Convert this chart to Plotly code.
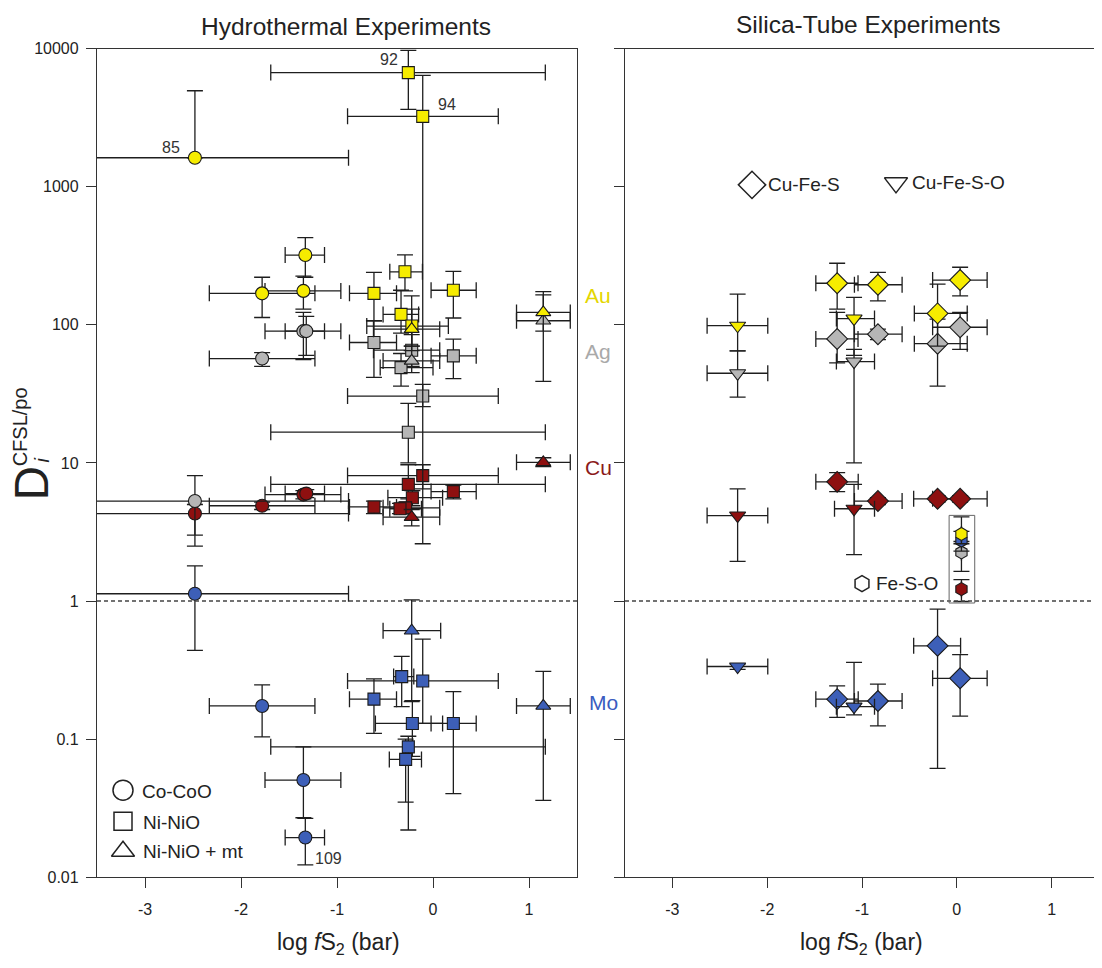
import math
import plotly.graph_objects as go

W, H = 1102, 968

# ---------------- data ----------------
# rows: (log fS2, D, x_low, x_high, D_low, D_high)
# Hydrothermal – Co-CoO (circles)
CO_AU = [(-2.48, 1620, -4.2, -0.88, 1620, 4950),
         (-1.33, 320, -1.54, -1.13, 221, 428),
         (-1.78, 169, -2.33, -1.23, 113, 221),
         (-1.35, 176, -1.75, -0.96, 130, 225)]
CO_AG = [(-2.48, 5.3, -4.2, -0.88, 3.0, 8.1),
         (-1.78, 57, -2.33, -1.23, 50, 63),
         (-1.35, 90, -1.75, -0.96, 56, 123),
         (-1.32, 90, -1.54, -1.13, 60, 115)]
CO_CU = [(-2.48, 4.3, -4.2, -0.88, 2.5, 5.0),
         (-1.78, 4.9, -2.33, -1.23, 4.6, 5.2),
         (-1.35, 5.9, -1.75, -0.96, 5.5, 6.3),
         (-1.32, 6.0, -1.54, -1.13, 5.6, 6.4)]
CO_MO = [(-2.48, 1.13, -4.2, -0.88, 0.44, 1.8),
         (-1.78, 0.174, -2.33, -1.23, 0.104, 0.247),
         (-1.35, 0.0506, -1.75, -0.96, 0.027, 0.088),
         (-1.33, 0.0194, -1.54, -1.13, 0.0123, 0.0267)]
# Hydrothermal – Ni-NiO (squares)
NI_AU = [(-0.257, 6700, -1.69, 1.17, 3630, 9700),
         (-0.107, 3230, -0.89, 0.68, 2.6, 6400),
         (-0.292, 242, -0.45, -0.11, 176, 321),
         (-0.615, 169, -0.87, -0.38, 107, 240),
         (0.212, 178, -0.02, 0.45, 112, 244),
         (-0.333, 119, -0.52, -0.15, 87, 178),
         (-0.22, 98, -0.69, 0.16, 70, 130)]
NI_AG = [(-0.615, 74.5, -0.87, -0.38, 41.6, 107),
         (-0.222, 65.5, -0.62, 0.07, 50, 85),
         (-0.333, 49, -0.55, 0.0, 36, 62),
         (0.212, 59.6, -0.02, 0.45, 40.8, 78.7),
         (-0.107, 30.5, -0.89, 0.68, 25.6, 37),
         (-0.257, 16.7, -1.69, 1.17, 10, 27)]
NI_CU = [(-0.107, 8.1, -0.89, 0.68, 6.5, 9.7),
         (-0.257, 7.0, -1.69, 1.17, 5.5, 9.7),
         (-0.215, 5.6, -0.47, 0.10, 4.9, 6.3),
         (0.212, 6.2, -0.02, 0.45, 5.5, 6.9),
         (-0.615, 4.8, -0.87, -0.38, 4.3, 5.3),
         (-0.285, 4.73, -0.52, 0.07, 4.3, 5.2),
         (-0.344, 4.66, -0.45, -0.12, 4.3, 5.1)]
NI_MO = [(-0.326, 0.284, -0.41, -0.20, 0.172, 0.398),
         (-0.107, 0.264, -0.89, 0.68, 0.13, 0.53),
         (-0.615, 0.195, -0.87, -0.38, 0.110, 0.273),
         (-0.215, 0.130, -0.60, 0.10, 0.075, 0.19),
         (0.212, 0.130, -0.02, 0.45, 0.0404, 0.221),
         (-0.257, 0.088, -1.69, 1.17, 0.022, 0.105),
         (-0.285, 0.0714, -0.455, -0.12, 0.035, 0.10)]
# Hydrothermal – Ni-NiO + mt (triangles)
MT_AU = [(-0.222, 93, -0.62, 0.07, 65, 162), (1.149, 123, 0.87, 1.43, 90, 174)]
MT_AG = [(-0.222, 54.8, -0.52, 0.07, 45, 70), (1.149, 107, 0.87, 1.43, 39, 165)]
MT_CU = [(-0.222, 4.05, -0.52, 0.07, 3.5, 4.6), (1.149, 10.1, 0.87, 1.43, 9.4, 10.9)]
MT_MO = [(-0.222, 0.61, -0.52, 0.08, 0.187, 1.02), (1.149, 0.174, 0.87, 1.43, 0.036, 0.31)]

# Silica tube – Cu-Fe-S (diamonds)
CFS_AU = [(-1.262, 200, -1.487, -1.042, 130, 279), (-0.832, 195, -1.08, -0.577, 149, 240),
          (0.035, 211, -0.255, 0.32, 162, 261), (-0.203, 121, -0.448, 0.11, 70, 197)]
CFS_AG = [(-1.262, 79, -1.487, -1.042, 53, 123), (-0.832, 85.5, -1.08, -0.577, 78, 93),
          (0.035, 96, -0.255, 0.32, 66.5, 123), (-0.203, 73, -0.448, 0.11, 36, 110)]
CFS_CU = [(-1.262, 7.3, -1.487, -1.04, 6.2, 8.5), (-0.832, 5.3, -1.08, -0.577, 5.0, 5.6),
          (-0.203, 5.5, -0.455, 0.04, 5.2, 5.8), (0.035, 5.5, -0.255, 0.32, 5.2, 5.8)]
CFS_MO = [(-0.203, 0.474, -0.455, 0.04, 0.0614, 0.875), (0.035, 0.276, -0.255, 0.32, 0.147, 0.41),
          (-1.262, 0.195, -1.487, -1.04, 0.144, 0.243), (-0.832, 0.189, -1.08, -0.577, 0.125, 0.25)]
# Silica tube – Cu-Fe-S-O (down triangles)
CFSO_AU = [(-2.312, 98.5, -2.634, -1.994, 64.7, 167), (-1.084, 111, -1.27, -0.868, 60, 158)]
CFSO_AG = [(-2.312, 44.6, -2.634, -1.994, 30, 64.7), (-1.084, 54.2, -1.27, -0.868, 10, 66.5)]
CFSO_CU = [(-2.312, 4.16, -2.634, -1.994, 1.94, 6.5), (-1.084, 4.66, -1.29, -0.868, 2.17, 7.0)]
CFSO_MO = [(-2.312, 0.336, -2.634, -1.994, 0.32, 0.35), (-1.084, 0.172, -1.27, -0.868, 0.15, 0.36)]
# Silica tube – Fe-S-O (hexagons)
FSO_AU = [(0.049, 3.06, 0.049, 0.049, 2.6, 4.07)]
FSO_MO = [(0.049, 2.74, 0.049, 0.049, 2.3, 3.2)]
FSO_AG = [(0.049, 2.25, 0.049, 0.049, 1.64, 2.7)]
FSO_CU = [(0.049, 1.22, 0.049, 0.049, 0.993, 1.43)]

X_TICKS = [-3, -2, -1, 0, 1]
X_LABELS = ["-3", "-2", "-1", "0", "1"]
Y_TICKS = [0.01, 0.1, 1, 10, 100, 1000, 10000]
Y_LABELS = ["0.01", "0.1", "1", "10", "100", "1000", "10000"]

# ---------------- styles ----------------
AU, AG, CU, MO = "#f6ec00", "#b6b6b6", "#8e1010", "#3d5fb8"
EB = "#1e1e1e"
FONT = "Liberation Sans, Arial, sans-serif"

# page placement of the drawn figure (observed in the browser)
XOFF, YOFF, HEFF = 8, 17.5, 949


def px(x):
    return (x - XOFF) / W


def py(y):
    return 1 - (y - YOFF) / HEFF


fig = go.Figure()


def add(rows, color, symbol, size, xa, ya):
    xs = [r[0] for r in rows]
    ys = [r[1] for r in rows]
    fig.add_trace(go.Scatter(
        x=xs, y=ys, mode="markers", xaxis=xa, yaxis=ya, showlegend=False,
        marker=dict(symbol=symbol, size=size, color=color,
                    line=dict(color="#1a1a1a", width=1.1)),
        error_x=dict(type="data", symmetric=False,
                     array=[r[3] - r[0] for r in rows],
                     arrayminus=[r[0] - r[2] for r in rows],
                     color=EB, thickness=1.3, width=8),
        error_y=dict(type="data", symmetric=False,
                     array=[r[5] - r[1] for r in rows],
                     arrayminus=[r[1] - r[4] for r in rows],
                     color=EB, thickness=1.3, width=8),
    ))


for rows, c in [(CO_MO, MO), (CO_CU, CU), (CO_AG, AG), (CO_AU, AU)]:
    add(rows, c, "circle", 13, "x", "y")
for rows, c in [(NI_MO, MO), (NI_CU, CU), (NI_AG, AG), (NI_AU, AU)]:
    add(rows, c, "square", 12, "x", "y")
for rows, c in [(MT_MO, MO), (MT_CU, CU), (MT_AG, AG), (MT_AU, AU)]:
    add(rows, c, "triangle-up", 13, "x", "y")

for rows, c in [(CFS_MO, MO), (CFS_CU, CU), (CFS_AG, AG), (CFS_AU, AU)]:
    add(rows, c, "diamond", 16, "x2", "y2")
for rows, c in [(CFSO_MO, MO), (CFSO_CU, CU), (CFSO_AG, AG), (CFSO_AU, AU)]:
    add(rows, c, "triangle-down", 14, "x2", "y2")
for rows, c in [(FSO_CU, CU), (FSO_AG, AG), (FSO_MO, MO), (FSO_AU, AU)]:
    add(rows, c, "hexagon", 13, "x2", "y2")

# legend symbols on a full-page pixel overlay
LEG_SYM = [("circle-open", 123, 790, 20), ("square-open", 123, 821, 18),
           ("triangle-up-open", 123, 851, 20), ("diamond-open", 752, 186, 21),
           ("triangle-down-open", 896, 184, 20), ("hexagon-open", 862, 584, 16)]
for sym, lx, ly, s in LEG_SYM:
    fig.add_trace(go.Scatter(x=[lx], y=[ly], mode="markers", xaxis="x3", yaxis="y3",
                             showlegend=False,
                             marker=dict(symbol=sym, size=s, color="#222",
                                         line=dict(color="#222", width=1.5))))

axis_common = dict(showgrid=False, zeroline=False, showline=True, linecolor="#333",
                   linewidth=1.3, ticks="outside", ticklen=10, tickwidth=1.3,
                   tickcolor="#333", tickfont=dict(size=16, color="#222", family=FONT))
ydom = [py(877), py(50)]

fig.update_layout(
    width=W, height=H, autosize=False,
    margin=dict(l=0, r=0, t=0, b=0, pad=0),
    paper_bgcolor="white", plot_bgcolor="rgba(0,0,0,0)",
    font=dict(family=FONT, color="#222"),
    xaxis=dict(domain=[px(97), px(577)], range=[-3.5, 1.5], anchor="y", mirror=True,
               tickvals=X_TICKS, ticktext=X_LABELS, ticklabelstandoff=7, **axis_common),
    yaxis=dict(domain=ydom, type="log", range=[-2, 4], anchor="x", mirror=True,
               tickvals=Y_TICKS, ticktext=Y_LABELS, ticklabelstandoff=4, **axis_common),
    xaxis2=dict(domain=[px(625), px(1099)], range=[-3.5, 1.5], anchor="y2", mirror=True,
                tickvals=X_TICKS, ticktext=X_LABELS, ticklabelstandoff=7, **axis_common),
    yaxis2=dict(domain=ydom, type="log", range=[-2, 4], anchor="x2", mirror=False,
                tickvals=Y_TICKS, showticklabels=False, **axis_common),
    xaxis3=dict(domain=[0, 1], range=[XOFF, XOFF + W], anchor="y3", visible=False,
                fixedrange=True),
    yaxis3=dict(domain=[0, 1], range=[YOFF + HEFF, YOFF], anchor="x3", visible=False,
                fixedrange=True),
)

# dashed D = 1 lines
for xr, yr in [("x domain", "y"), ("x2 domain", "y2")]:
    fig.add_shape(type="line", xref=xr, yref=yr, x0=0, x1=1, y0=1, y1=1,
                  line=dict(color="#444", width=1.5, dash="4px,3px"))

# Fe-S-O box
hx = FSO_AU[0][0]
fso_all = FSO_AU + FSO_MO + FSO_AG + FSO_CU
fig.add_shape(type="rect", xref="x2", yref="y2", x0=hx - 0.13, x1=hx + 0.14,
              y0=min(r[4] for r in fso_all) * 0.975,
              y1=max(r[5] for r in fso_all) * 1.025,
              line=dict(color="#666", width=1))


def ann(text, x, y, size, color="#222", angle=0, xanchor="center"):
    fig.add_annotation(text=text, x=px(x), y=py(y), xref="paper", yref="paper",
                       showarrow=False, xanchor=xanchor, yanchor="middle",
                       textangle=angle, borderpad=0,
                       font=dict(size=size, color=color, family=FONT))


ann("Hydrothermal Experiments", 346, 28, 24.5)
ann("Silica-Tube Experiments", 868, 26, 24.5)
ann("log <i>f</i>S<sub>2</sub> (bar)", 338, 943, 23)
ann("log <i>f</i>S<sub>2</sub> (bar)", 861, 943, 23)

# y title
ann("D", 31, 484, 48, angle=-90)
ann("<i>i</i>", 42, 461, 20, angle=-90)
ann("CFSL/po", 20, 428, 20, angle=-90)

# element labels
ann("Au", 598, 296, 21, color="#e4d600")
ann("Ag", 598, 352, 21, color="#a9a9a9")
ann("Cu", 598, 468, 21, color="#8b1a1a")
ann("Mo", 603, 703, 21, color="#3a5cc0")

# legends
ann("Co-CoO", 141, 791, 19, xanchor="left")
ann("Ni-NiO", 142, 822, 19, xanchor="left")
ann("Ni-NiO + mt", 142, 851, 19, xanchor="left")
ann("Cu-Fe-S", 767, 186, 19, xanchor="left")
ann("Cu-Fe-S-O", 911, 184, 19, xanchor="left")
ann("Fe-S-O", 875, 584, 19, xanchor="left")

# run numbers next to points
for txt, row, dx, dy in [("92", NI_AU[0], -19, 13), ("94", NI_AU[1], 24, 12),
                         ("85", CO_AU[0], -24, 10), ("109", CO_MO[3], 23, -21)]:
    fig.add_annotation(text=txt, x=row[0], y=math.log10(row[1]), xref="x", yref="y",
                       showarrow=False, xshift=dx, yshift=dy,
                       font=dict(size=16, color="#333", family=FONT))

fig.write_html("out.html")
